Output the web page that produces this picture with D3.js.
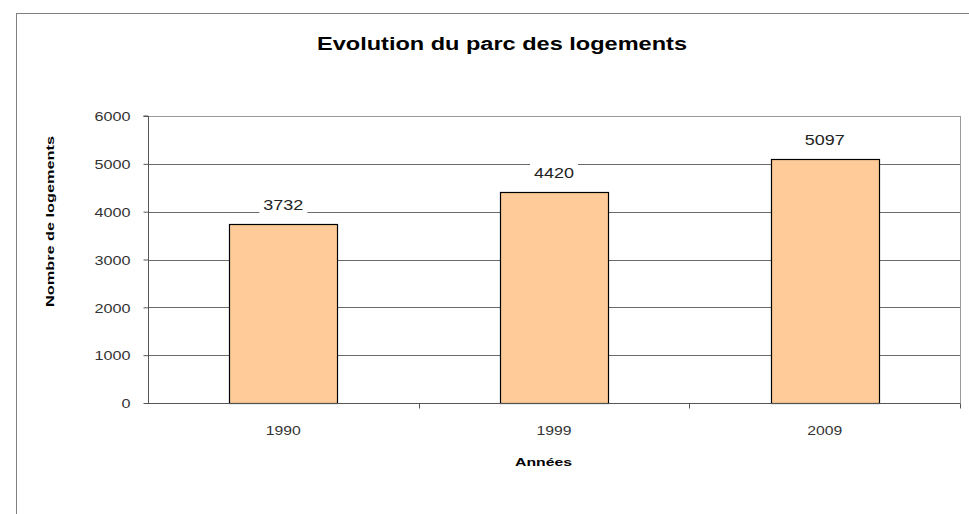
<!DOCTYPE html>
<html><head><meta charset="utf-8">
<script src="https://cdn.jsdelivr.net/npm/d3@7"></script>
<style>body{margin:0;background:#fff;} svg{display:block;font-family:"Liberation Sans",Arial,sans-serif;}</style>
</head><body>
<svg id="c" width="969" height="514"></svg>
<script>
const categories = ["1990", "1999", "2009"];
const values = [3732, 4420, 5097];
const yTicks = [0, 1000, 2000, 3000, 4000, 5000, 6000];
const title = "Evolution du parc des logements";
const yTitle = "Nombre de logements";
const xTitle = "Années";

const svg = d3.select("#c");
const W = 969, H = 514;
const m = {left: 148, right: 9, top: 116, bottom: 111};
const FF = "Liberation Sans, Arial, sans-serif";

// outer frame
svg.append("rect").attr("x", 16.5).attr("y", 13.5).attr("width", W + 10).attr("height", H + 10)
  .attr("fill", "#fff").attr("stroke", "#808080").attr("stroke-width", 1);

const x = d3.scaleBand().domain(categories).range([m.left, W - m.right]).paddingInner(0).paddingOuter(0);
const y = d3.scaleLinear().domain([0, 6000]).range([H - m.bottom, m.top]);

const g = svg.append("g");
// gridlines
g.selectAll("line.grid").data(yTicks.filter(d => d > 0)).join("line")
  .attr("x1", m.left).attr("x2", W - m.right)
  .attr("y1", d => Math.round(y(d)) + 0.5).attr("y2", d => Math.round(y(d)) + 0.5)
  .attr("stroke", d => d === 6000 ? "#999" : "#6a6a6a").attr("stroke-width", 1);
// plot right border
g.append("line").attr("x1", W - m.right + 0.5).attr("x2", W - m.right + 0.5)
  .attr("y1", y(6000)).attr("y2", y(0)).attr("stroke", "#999");

// bars
const bw = x.bandwidth() * 0.4;
g.selectAll("rect.bar").data(values).join("rect")
  .attr("x", (d, i) => Math.round(x(categories[i]) + x.bandwidth() / 2 - bw / 2) + 0.5)
  .attr("y", d => Math.round(y(d)) + 0.5)
  .attr("width", Math.round(bw))
  .attr("height", d => Math.round(y(0)) - Math.round(y(d)))
  .attr("fill", "#FFCC99").attr("stroke", "#000").attr("stroke-width", 1.2);

// data labels
values.forEach((v, i) => {
  const cx = x(categories[i]) + x.bandwidth() / 2;
  const base = y(v) - 14;
  const s = String(v);
  g.append("rect").attr("x", cx - 24).attr("y", base - 14).attr("width", 48).attr("height", 18).attr("fill", "#fff");
  g.append("text").attr("x", cx).attr("y", base).attr("text-anchor", "middle")
    .attr("font-size", 15).attr("fill", "#222")
    .attr("textLength", s.length * 10).attr("lengthAdjust", "spacingAndGlyphs").text(s);
});

// y axis
const yAxis = d3.axisLeft(y).tickValues(yTicks).tickSize(5).tickPadding(13).tickFormat(d3.format("d"));
const ya = svg.append("g").attr("transform", `translate(${m.left + 0.5},0)`).call(yAxis);
ya.select(".domain").attr("stroke", "#555").attr("d", `M-5,${y(6000)}H0V${y(0)}`);
ya.selectAll(".tick line").attr("stroke", "#555");
ya.selectAll(".tick text").attr("font-size", 13).attr("fill", "#333").attr("font-family", FF)
  .attr("dy", "0.36em")
  .attr("textLength", d => String(d).length * 9).attr("lengthAdjust", "spacingAndGlyphs");

// x axis
const xAxis = d3.axisBottom(x).tickSize(0).tickPadding(0);
const xa = svg.append("g").attr("transform", `translate(0,${Math.round(y(0)) + 0.5})`).call(xAxis);
xa.select(".domain").attr("stroke", "#555").attr("d", `M${m.left},0H${W - m.right + 0.5}`);
xa.selectAll(".tick text").attr("font-size", 13).attr("fill", "#333").attr("font-family", FF)
  .attr("y", 31).attr("dy", null)
  .attr("textLength", 35).attr("lengthAdjust", "spacingAndGlyphs");
// category separators
const seps = categories.slice(1).map(c => x(c)).concat([W - m.right]);
xa.selectAll("line.sep").data(seps).join("line")
  .attr("x1", d => Math.round(d) + 0.5).attr("x2", d => Math.round(d) + 0.5)
  .attr("y1", 0).attr("y2", 5).attr("stroke", "#555");

// titles
svg.append("text").attr("x", 502).attr("y", 50).attr("text-anchor", "middle")
  .attr("font-size", 18).attr("font-weight", "bold").attr("fill", "#000")
  .attr("textLength", 370).attr("lengthAdjust", "spacingAndGlyphs").text(title);
svg.append("text").attr("transform", "translate(54,221.5) rotate(-90)").attr("text-anchor", "middle")
  .attr("font-size", 11).attr("font-weight", "bold").attr("fill", "#000")
  .attr("textLength", 171).attr("lengthAdjust", "spacingAndGlyphs").text(yTitle);
svg.append("text").attr("x", 543.5).attr("y", 466).attr("text-anchor", "middle")
  .attr("font-size", 11).attr("font-weight", "bold").attr("fill", "#000")
  .attr("textLength", 57).attr("lengthAdjust", "spacingAndGlyphs").text(xTitle);
</script>
</body></html>
